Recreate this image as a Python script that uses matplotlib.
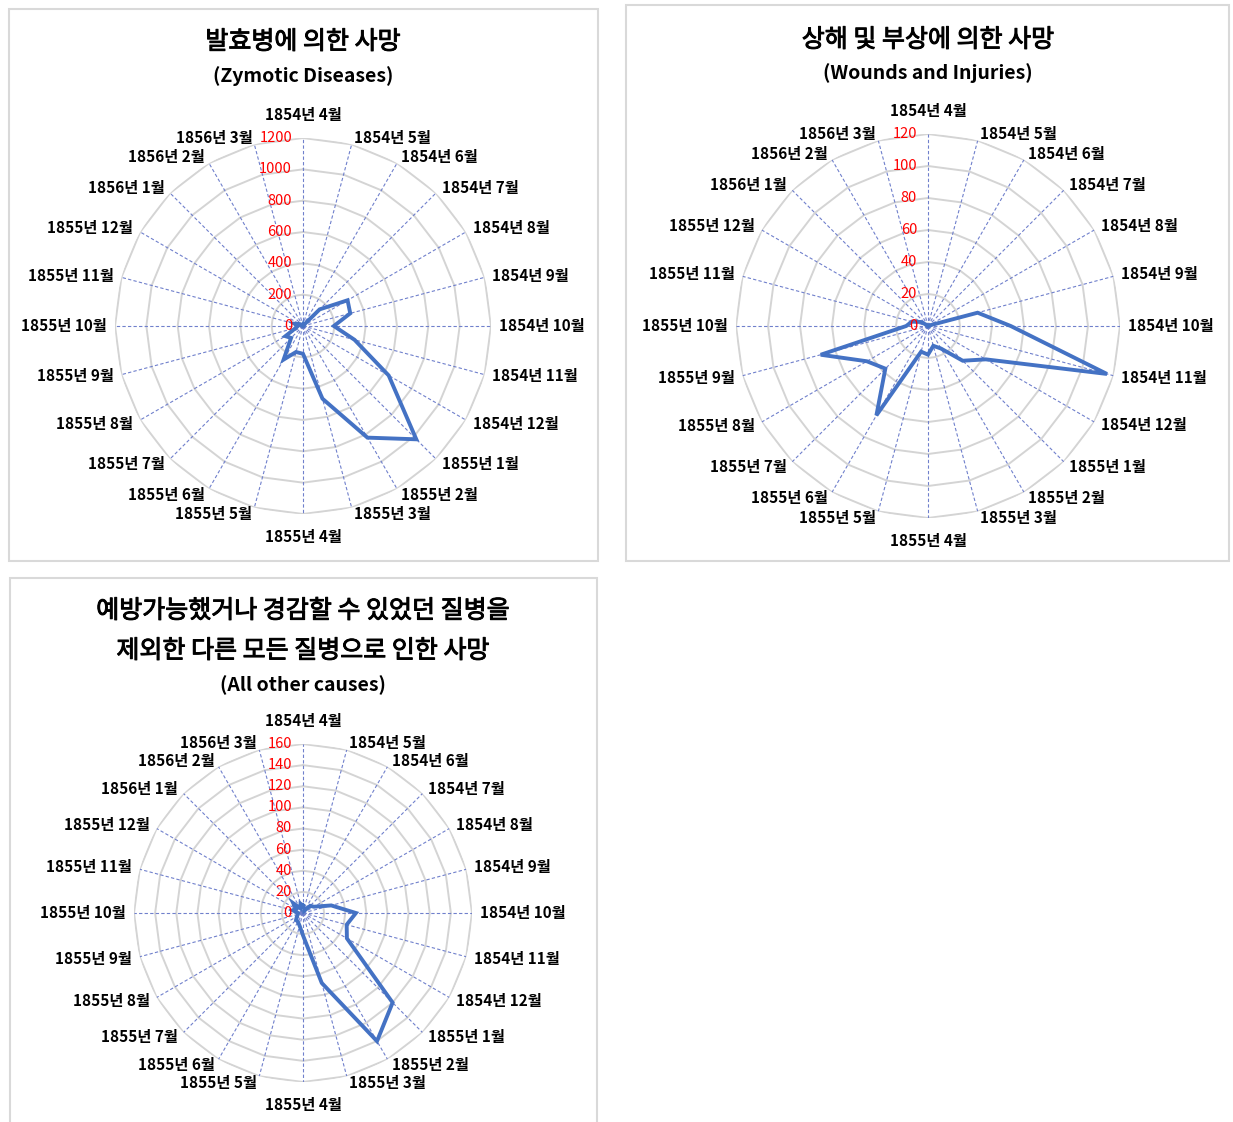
import numpy as np
import matplotlib
matplotlib.use('Agg')
import matplotlib.pyplot as plt
import matplotlib.patheffects as pe
from matplotlib.patches import Rectangle

plt.rcParams['font.family'] = ['Noto Sans CJK KR', 'DejaVu Sans']

# annual mortality rate per 1000, Crimean war, Apr 1854 - Mar 1856
months = ['1854년 4월', '1854년 5월', '1854년 6월', '1854년 7월', '1854년 8월', '1854년 9월',
          '1854년 10월', '1854년 11월', '1854년 12월', '1855년 1월', '1855년 2월', '1855년 3월',
          '1855년 4월', '1855년 5월', '1855년 6월', '1855년 7월', '1855년 8월', '1855년 9월',
          '1855년 10월', '1855년 11월', '1855년 12월', '1856년 1월', '1856년 2월', '1856년 3월']
zymotic = [1.4, 6.2, 4.7, 150.0, 328.5, 312.2, 197.0, 340.6, 631.5, 1022.8, 822.8, 480.3,
           177.5, 171.8, 247.6, 107.5, 129.9, 47.5, 32.8, 56.4, 25.3, 11.4, 6.6, 3.9]
wounds = [0.0, 0.0, 0.0, 0.0, 0.4, 32.1, 51.7, 115.8, 41.7, 30.7, 16.3, 12.8,
          17.9, 16.6, 64.5, 37.7, 44.1, 69.4, 13.6, 10.5, 5.0, 0.5, 0.0, 0.0]
other = [7.0, 4.6, 2.5, 9.6, 11.9, 27.7, 50.1, 42.8, 48.0, 120.0, 140.1, 68.6,
         21.2, 12.5, 9.6, 9.3, 6.7, 5.0, 4.6, 10.1, 7.8, 13.0, 5.2, 9.1]

W, H = 1233, 1122
fig = plt.figure(figsize=(W / 100, H / 100), dpi=100)
PX = 0.72  # points per pixel at dpi 100


def frame(x0, y0, x1, y1):
    fig.patches.append(Rectangle((x0 / W, 1 - y1 / H), (x1 - x0) / W, (y1 - y0) / H,
                                 transform=fig.transFigure, fill=False,
                                 ec='#d9d9d9', lw=1.5))


def radar(values, cx, cy, R, rmax, step, titles, title_y):
    ax = fig.add_axes([(cx - R) / W, 1 - (cy + R) / H, 2 * R / W, 2 * R / H],
                      projection='polar')
    ax.set_theta_zero_location('N')
    ax.set_theta_direction(-1)
    ax.set_ylim(0, rmax)
    ax.axis('off')

    n = len(values)
    theta = np.arange(n) * 2 * np.pi / n
    closed = np.append(theta, theta[0])
    ticks = np.arange(0, rmax + step / 2, step)

    # polygon gridlines and dashed spokes
    for r in ticks[1:]:
        ax.plot(closed, np.full(n + 1, r), color='#d4d4d4', lw=1.4, zorder=1)
    for t in theta:
        ax.plot([t, t], [0, rmax], color='#7080cc', lw=0.8, ls=(0, (3, 2)), zorder=2)

    ax.plot(closed, np.append(values, values[0]), color='#4472c4', lw=2.8,
            zorder=3, solid_joinstyle='miter')

    for r in ticks:
        ax.annotate('%d' % r, xy=(0, r), xytext=(-11 * PX, 0), textcoords='offset points',
                    ha='right', va='center', color='#ff0000', fontsize=10.5,
                    annotation_clip=False)

    for t, lab in zip(theta, months):
        s, c = np.sin(t), np.cos(t)
        if abs(s) < 0.05:
            ha, dx, dy = 'center', 0, 23 * np.sign(c)
        else:
            ha = 'left' if s > 0 else 'right'
            dx, dy = 8 * s, 7 * c
        ax.annotate(lab, xy=(t, rmax), xytext=(dx * PX, dy * PX), textcoords='offset points',
                    ha=ha, va='center', fontsize=11, fontweight='bold',
                    annotation_clip=False)

    for i, (txt, y) in enumerate(zip(titles, title_y)):
        if i == len(titles) - 1:
            fig.text(cx / W, 1 - y / H, txt, ha='center', va='center',
                     fontsize=14, fontweight='bold')
        else:
            # regular face thickened slightly with a stroke
            fig.text(cx / W, 1 - y / H, txt, ha='center', va='center', fontsize=18,
                     path_effects=[pe.withStroke(linewidth=0.7, foreground='black')])
    return ax


frame(9, 9, 598, 561)
frame(626, 5, 1229, 561)
frame(10, 578, 597, 1140)

radar(zymotic, 303, 326, 188, 1200, 200,
      ['발효병에 의한 사망', '(Zymotic Diseases)'], [42, 76])
radar(wounds, 928, 326, 192, 120, 20,
      ['상해 및 부상에 의한 사망', '(Wounds and Injuries)'], [40, 73])
radar(other, 303, 913, 169, 160, 20,
      ['예방가능했거나 경감할 수 있었던 질병을', '제외한 다른 모든 질병으로 인한 사망',
       '(All other causes)'], [611, 651, 685])

fig.savefig('out.png', dpi=100)
